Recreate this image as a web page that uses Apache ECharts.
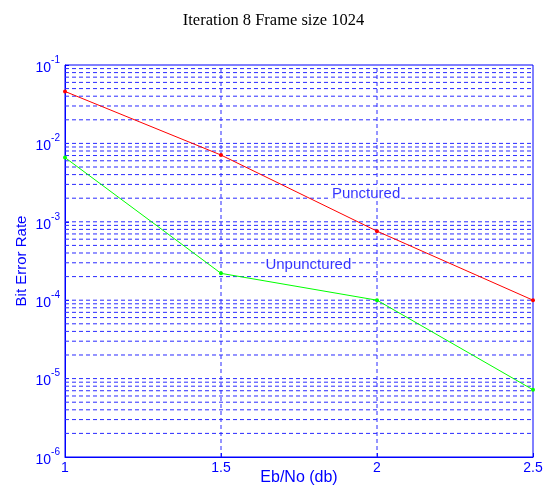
<!DOCTYPE html>
<html>
<head>
<meta charset="utf-8">
<script src="https://cdn.jsdelivr.net/npm/echarts@6/dist/echarts.min.js"></script>
<style>
  html, body { margin: 0; padding: 0; background: #fff; }
  #chart { width: 547px; height: 490px; }
</style>
</head>
<body>
<div id="chart"></div>
<script>
// Eb/No values (dB) and bit error rates for the two decoders
const ebNo = [1, 1.5, 2, 2.5];
const punctured = [0.046, 0.0071, 0.00076, 0.0001];
const unpunctured = [0.0066, 0.00022, 0.0001, 0.0000072];

// In-plot text labels, placed in data coordinates
const notePunctured = { text: 'Punctured', x: 1.965, y: 0.0023 };
const noteUnpunctured = { text: 'Unpunctured', x: 1.78, y: 0.00028 };

// Axis ranges and the inner vertical grid positions
const xMin = 1, xMax = 2.5, xStep = 0.5;
const xGrid = [1.5, 2];
const yMin = 1e-6, yMax = 1e-1;

const BLUE = '#0000ff';
const GRID = '#2b2bff';
const DASH = [4, 3];
const FONT = '"Liberation Sans", Arial, sans-serif';

function gridLine(points) {
  return {
    type: 'line',
    silent: true,
    data: points,
    symbol: 'none',
    lineStyle: { color: GRID, type: DASH, width: 1 },
    z: 1
  };
}

// Dashed log grid: decades plus 2..9 within every decade
const gridSeries = [];
for (let e = -6; e < -1; e++) {
  for (let m = 1; m <= 9; m++) {
    if (e === -6 && m === 1) continue;
    const v = m * Math.pow(10, e);
    gridSeries.push(gridLine([[xMin, v], [xMax, v]]));
  }
}
xGrid.forEach(x => gridSeries.push(gridLine([[x, yMin], [x, yMax]])));

function noteSeries(note) {
  return {
    type: 'scatter',
    silent: true,
    data: [[note.x, note.y]],
    symbolSize: 0,
    z: 4,
    label: {
      show: true, position: 'inside', formatter: note.text,
      color: BLUE, fontFamily: FONT, fontSize: 15,
      backgroundColor: '#ffffff', padding: [0, 1]
    }
  };
}

const chart = echarts.init(document.getElementById('chart'), null, { renderer: 'canvas' });

chart.setOption({
  animation: false,
  backgroundColor: '#ffffff',
  title: {
    text: 'Iteration 8 Frame size 1024',
    left: 'center',
    top: 7,
    textStyle: { fontFamily: '"Liberation Serif", "Times New Roman", serif', fontSize: 16.5, fontWeight: 'normal', color: '#000' }
  },
  grid: {
    left: 65, right: 14, top: 65, bottom: 33,
    containLabel: false,
    outerBoundsMode: 'none',
    show: true, borderColor: BLUE, borderWidth: 1, backgroundColor: 'transparent'
  },
  xAxis: {
    type: 'value',
    min: xMin, max: xMax, interval: xStep,
    name: 'Eb/No (db)',
    nameLocation: 'middle',
    nameGap: 13,
    nameMoveOverlap: false,
    nameTextStyle: { color: BLUE, fontFamily: FONT, fontSize: 16 },
    axisLine: { show: true, lineStyle: { color: BLUE, width: 1 } },
    axisTick: { show: true, inside: true, length: 4, lineStyle: { color: BLUE } },
    axisLabel: {
      color: BLUE, fontFamily: FONT, fontSize: 14, margin: 4,
      formatter: v => String(v)
    },
    splitLine: { show: false }
  },
  yAxis: {
    type: 'log',
    logBase: 10,
    min: yMin, max: yMax,
    name: 'Bit Error Rate',
    nameLocation: 'middle',
    nameGap: 36,
    nameMoveOverlap: false,
    nameTextStyle: { color: BLUE, fontFamily: FONT, fontSize: 15 },
    axisLine: { show: true, lineStyle: { color: BLUE, width: 1 } },
    axisTick: { show: true, inside: true, length: 4, lineStyle: { color: BLUE } },
    axisLabel: {
      margin: 5,
      formatter: v => '{b|10}{s|' + Math.round(Math.log10(v)) + '}',
      rich: {
        b: { color: BLUE, fontFamily: FONT, fontSize: 14, verticalAlign: 'bottom', padding: [6, 0, 0, 0] },
        s: { color: BLUE, fontFamily: FONT, fontSize: 10, verticalAlign: 'top', padding: [0, 0, 8, 0] }
      }
    },
    splitLine: { show: false }
  },
  series: [
    ...gridSeries,
    {
      name: 'Punctured',
      type: 'line',
      data: ebNo.map((x, i) => [x, punctured[i]]),
      symbol: 'circle', symbolSize: 4,
      lineStyle: { color: '#ff0000', width: 1 },
      itemStyle: { color: '#ff0000' },
      z: 5
    },
    {
      name: 'Unpunctured',
      type: 'line',
      data: ebNo.map((x, i) => [x, unpunctured[i]]),
      symbol: 'circle', symbolSize: 4,
      lineStyle: { color: '#00ff00', width: 1 },
      itemStyle: { color: '#00ff00' },
      z: 5
    },
    noteSeries(notePunctured),
    noteSeries(noteUnpunctured)
  ]
});
</script>
</body>
</html>
